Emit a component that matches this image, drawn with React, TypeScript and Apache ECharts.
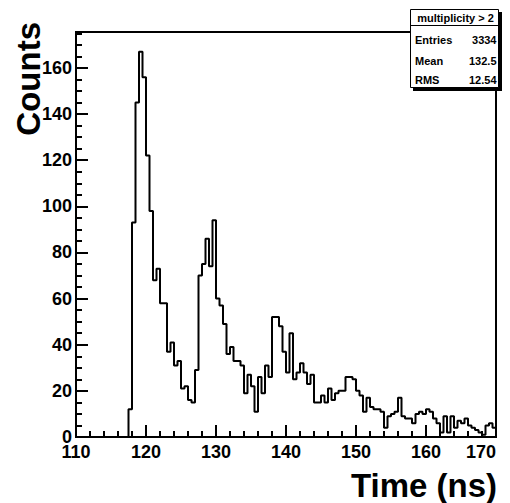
import React, { useEffect, useRef } from "react";
import * as echarts from "echarts";

// Histogram binning (110 - 170 ns, 0.5 ns bins)
const X_MIN = 110;
const X_MAX = 170;
const BIN_WIDTH = 0.5;

// Counts per bin, starting at 110 ns
const counts = [
  0, 0, 0, 0, 0, 0, 0, 0, 0, 0, 0, 0, 0, 0, 0,
  12, 93, 145, 167, 156, 122, 98, 68, 73, 58,
  58, 37, 41, 31, 33, 21, 22, 16, 15, 29,
  70, 75, 86, 74, 94, 60, 57, 49, 36, 39,
  33, 33, 31, 19, 27, 22, 11, 26, 19, 31,
  26, 52, 52, 48, 37, 28, 45, 25, 28, 32,
  28, 23, 27, 15, 15, 18, 15, 21, 16, 19,
  20, 20, 26, 26, 25, 20, 18, 11, 17, 13,
  12, 12, 11, 4, 9, 10, 11, 17, 9, 8,
  8, 6, 10, 11, 10, 12, 11, 8, 6, 2,
  9, 2, 9, 4, 7, 6, 8, 5, 4, 3,
  2, 1, 5, 6, 4,
];

const Y_MAX = 175.6;
const statsTitle = "multiplicity > 2";
const statsLabels = ["Entries", "Mean", "RMS"];
const statsValues = ["3334", "132.5", "12.54"];
const xTitle = "Time (ns)";
const yTitle = "Counts";

const FONT = "'Liberation Sans', Arial, Helvetica, sans-serif";

export default function App() {
  const ref = useRef<HTMLDivElement>(null);

  useEffect(() => {
    if (!ref.current) return;
    const chart = echarts.init(ref.current, null, { renderer: "svg" });

    const data: number[][] = counts.map((c, i) => [X_MIN + i * BIN_WIDTH, c]);
    data.push([X_MAX, counts[counts.length - 1]]);

    const tickLine = { color: "#000", width: 2 };
    const rowY = [40, 60.5, 79.5];

    const graphic: any[] = [
      {
        type: "text",
        x: 28,
        y: 22,
        rotation: Math.PI / 2,
        z: 10,
        style: {
          text: yTitle,
          fill: "#000",
          fontSize: 33,
          fontWeight: "bold",
          fontFamily: FONT,
          align: "right",
          verticalAlign: "middle",
        },
      },
      {
        type: "text",
        x: 497,
        y: 485,
        z: 10,
        style: {
          text: xTitle,
          fill: "#000",
          fontSize: 33,
          fontWeight: "bold",
          fontFamily: FONT,
          align: "right",
          verticalAlign: "middle",
        },
      },
      {
        type: "rect",
        z: 10,
        shape: { x: 413, y: 12, width: 89, height: 79 },
        style: { fill: "#000" },
      },
      {
        type: "rect",
        z: 11,
        shape: { x: 410.5, y: 9.5, width: 88, height: 78 },
        style: { fill: "#fff", stroke: "#000", lineWidth: 1 },
      },
      {
        type: "line",
        z: 12,
        shape: { x1: 410.5, y1: 25.5, x2: 498.5, y2: 25.5 },
        style: { stroke: "#000", lineWidth: 1 },
      },
      {
        type: "text",
        x: 455.5,
        y: 17.5,
        z: 12,
        style: {
          text: statsTitle,
          fill: "#000",
          fontSize: 11,
          fontWeight: "bold",
          fontFamily: FONT,
          align: "center",
          verticalAlign: "middle",
        },
      },
    ];
    statsLabels.forEach((lab, i) => {
      graphic.push({
        type: "text",
        x: 415,
        y: rowY[i],
        z: 12,
        style: {
          text: lab,
          fill: "#000",
          fontSize: 11,
          fontWeight: "bold",
          fontFamily: FONT,
          align: "left",
          verticalAlign: "middle",
        },
      });
      graphic.push({
        type: "text",
        x: 496.5,
        y: rowY[i],
        z: 12,
        style: {
          text: statsValues[i],
          fill: "#000",
          fontSize: 11,
          fontWeight: "bold",
          fontFamily: FONT,
          align: "right",
          verticalAlign: "middle",
        },
      });
    });

    const option: any = {
      animation: false,
      backgroundColor: "#fff",
      grid: {
        left: 76,
        top: 32,
        width: 420,
        height: 405,
        show: true,
        borderColor: "#000",
        borderWidth: 2,
        backgroundColor: "transparent",
      },
      xAxis: {
        type: "value",
        min: X_MIN,
        max: X_MAX,
        interval: 10,
        axisLine: { lineStyle: tickLine },
        axisTick: { inside: true, length: 12, lineStyle: tickLine },
        minorTick: { show: true, splitNumber: 5, length: 6, lineStyle: tickLine },
        splitLine: { show: false },
        minorSplitLine: { show: false },
        axisLabel: {
          color: "#000",
          fontSize: 18,
          fontWeight: "bold",
          fontFamily: FONT,
          margin: 6,
          alignMaxLabel: "right",
        },
      },
      yAxis: [
        {
          type: "value",
          min: 0,
          max: Y_MAX,
          interval: 20,
          position: "left",
          axisLine: { show: true, lineStyle: tickLine },
          axisTick: { inside: true, length: 12, lineStyle: tickLine },
          splitLine: { show: false },
          axisLabel: {
            color: "#000",
            fontSize: 18,
            fontWeight: "bold",
            fontFamily: FONT,
            margin: 4,
            padding: [4, 0, 0, 0],
            showMaxLabel: false,
          },
        },
        {
          type: "value",
          min: 0,
          max: Y_MAX,
          interval: 5,
          position: "left",
          axisLine: { show: false },
          axisTick: { inside: true, length: 6, lineStyle: tickLine },
          splitLine: { show: false },
          axisLabel: { show: false },
        },
      ],
      series: [
        {
          type: "line",
          step: "end",
          data,
          yAxisIndex: 0,
          showSymbol: false,
          symbol: "none",
          lineStyle: { color: "#000", width: 2 },
          clip: true,
        },
      ],
      graphic,
    };

    chart.setOption(option);
    return () => chart.dispose();
  }, []);

  return (
    <div
      ref={ref}
      style={{ position: "fixed", left: 0, top: 0, width: 510, height: 503, background: "#fff" }}
    />
  );
}
